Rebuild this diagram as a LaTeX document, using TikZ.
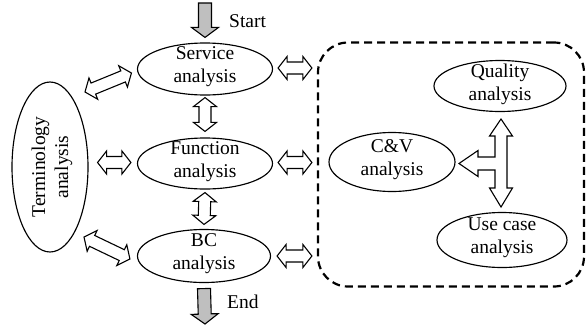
\documentclass[tikz,border=0pt]{standalone}
\usepackage{fontspec}
\setmainfont{Liberation Serif}
\usetikzlibrary{shapes.geometric,calc}
\tikzset{
  ell/.style={ellipse,draw,line width=1.15pt,inner sep=0pt},
  txt/.style={align=center,font=\fontsize{19.5}{23}\selectfont,inner sep=0pt},
  blockarrow/.style={draw,line width=1.1pt,fill=white,line join=miter},
  grayarrow/.style={draw,line width=1.1pt,fill=gray!50,line join=miter},
  grpbox/.style={draw,dash pattern=on 8pt off 5pt,line width=2.2pt,rounded corners=30pt,inner sep=0pt}
}
\newcommand\dblarrow[2]{%
  \coordinate (da1) at ($(#1)!9pt!(#2)$);
  \coordinate (da2) at ($(#2)!9pt!(#1)$);
  \draw[blockarrow] (#1) -- ($(da1)!11.5pt!90:(#2)$) -- ($(da1)!6pt!90:(#2)$)
    -- ($(da2)!6pt!-90:(#1)$) -- ($(da2)!11.5pt!-90:(#1)$) -- (#2)
    -- ($(da2)!11.5pt!90:(#1)$) -- ($(da2)!6pt!90:(#1)$)
    -- ($(da1)!6pt!-90:(#2)$) -- ($(da1)!11.5pt!-90:(#2)$) -- cycle;
}
\newcommand\sglarrow[2]{%
  \coordinate (dh) at ($(#2)!10pt!(#1)$);
  \draw[grayarrow] ($(#1)!6.5pt!90:(#2)$) -- ($(dh)!6.5pt!-90:(#1)$) -- ($(dh)!13.5pt!-90:(#1)$)
    -- (#2) -- ($(dh)!13.5pt!90:(#1)$) -- ($(dh)!6.5pt!90:(#1)$) -- ($(#1)!6.5pt!-90:(#2)$) -- cycle;
}
\begin{document}
\begin{tikzpicture}[x=1pt,y=-1pt]
\useasboundingbox (0,0) rectangle (586,327);
% main column
\node[ell,minimum width=135pt,minimum height=52pt] (svc) at (205,69) {};
\node[txt] (svct) at (205,66.5) {Service\\analysis};
\node[ell,minimum width=135pt,minimum height=51pt] (fn) at (205,163.5) {};
\node[txt] (fnt) at (205,161.5) {Function\\analysis};
\node[ell,minimum width=133pt,minimum height=53pt] (bc) at (204,256) {};
\node[txt] (bct) at (204,253.5) {BC\\analysis};
% terminology
\node[ell,minimum width=76pt,minimum height=170pt] (term) at (50,167) {};
\node[txt,rotate=90] (termt) at (52,167) {Terminology\\analysis};
% group
\node[grpbox,minimum width=266pt,minimum height=244pt] (grp) at (451,164.5) {};
\node[ell,minimum width=132pt,minimum height=51pt] (qa) at (500,86) {};
\node[txt] (qat) at (500,84) {Quality\\analysis};
\node[ell,minimum width=126pt,minimum height=59pt] (cv) at (392,162) {};
\node[txt] (cvt) at (392,159.5) {C\&V\\analysis};
\node[ell,minimum width=130pt,minimum height=55pt] (uc) at (502,240) {};
\node[txt] (uct) at (502,238) {Use case\\analysis};
% start / end
\coordinate (st) at (205,3);
\coordinate (sttip) at ($(svc.north)+(0,-5)$);
\sglarrow{st}{sttip}
\node[txt,anchor=west] (startl) at (229,21) {Start};
\coordinate (en) at ($(bc.south)+(0,5.5)$);
\coordinate (entip) at (205,324);
\sglarrow{en}{entip}
\node[txt,anchor=west] (endl) at (227,302) {End};
% vertical double arrows
\coordinate (a1) at ($(svc.south)+(0,2)$);
\coordinate (a2) at ($(fn.north)+(0,-6)$);
\dblarrow{a1}{a2}
\coordinate (b1) at ($(fn.south)+(0,3)$);
\coordinate (b2) at ($(bc.north)+(0,-4.5)$);
\dblarrow{b1}{b2}
% terminology links
\coordinate (c1) at ($(term)+(35,-75)$);
\coordinate (c2) at ($(svc.west)+(-5.5,4)$);
\dblarrow{c1}{c2}
\coordinate (d1) at ($(term.east |- fn)+(9,-1)$);
\coordinate (d2) at ($(fn.west)+(-6,-1)$);
\dblarrow{d1}{d2}
\coordinate (e1) at ($(term)+(34,70)$);
\coordinate (e2) at ($(bc.west)+(-7,3)$);
\dblarrow{e1}{e2}
% links to group
\coordinate (f1) at ($(svc.east)+(5,-1)$);
\coordinate (f2) at ($(grp.west |- svc.east)+(-5,-1)$);
\dblarrow{f1}{f2}
\coordinate (g1) at ($(fn.east)+(5,-1)$);
\coordinate (g2) at ($(grp.west |- fn.east)+(-5,-1)$);
\dblarrow{g1}{g2}
\coordinate (h1) at ($(bc.east)+(6,0)$);
\coordinate (h2) at ($(grp.west |- bc.east)+(-5,0)$);
\dblarrow{h1}{h2}
% T arrow
\draw[blockarrow] (501,119) -- (512.5,136) -- (507,136) -- (507,188) -- (512.5,188) -- (501,207)
  -- (489.5,188) -- (495,188) -- (495,170) -- (478,170) -- (478,176.5) -- (459,163.5)
  -- (478,150.5) -- (478,157) -- (495,157) -- (495,136) -- (489.5,136) -- cycle;
\end{tikzpicture}
\end{document}
